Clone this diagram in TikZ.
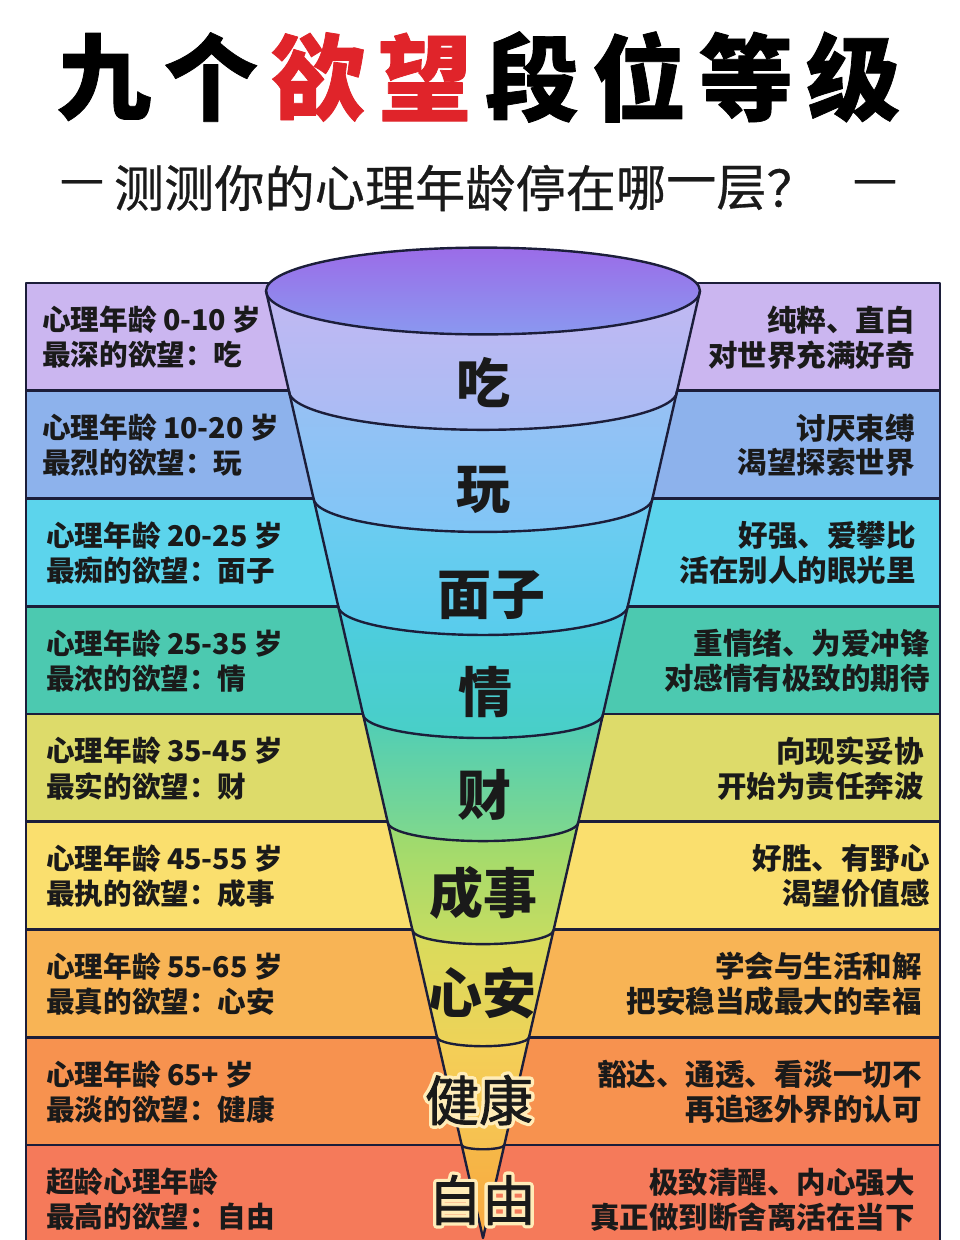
\documentclass[tikz,border=0pt]{standalone}
\usepackage{fontspec}
\setmainfont{Noto Sans CJK SC}
\newfontfamily\subfam[FakeBold=0.6]{Noto Sans CJK SC}
\newfontfamily\lowfam[FakeBold=1.5]{Noto Sans CJK SC}
\newfontfamily\halofam[FakeBold=14]{Noto Sans CJK SC}
\newfontfamily\heavyfam[BoldFeatures={FakeBold=0.8}]{Noto Sans CJK SC}
\definecolor{edge}{HTML}{1C1E3A}
\definecolor{ink}{HTML}{1A1A1A}
\definecolor{titlered}{HTML}{E0242A}
\definecolor{halo}{HTML}{FFECB8}
\definecolor{r1}{HTML}{CBB6F0}
\definecolor{r2}{HTML}{8DB2EC}
\definecolor{r3}{HTML}{5CD4EC}
\definecolor{r4}{HTML}{4CC9B0}
\definecolor{r5}{HTML}{DDDB6A}
\definecolor{r6}{HTML}{FADF6E}
\definecolor{r7}{HTML}{F8B455}
\definecolor{r8}{HTML}{F7924F}
\definecolor{r9}{HTML}{F57A5A}
\definecolor{topt}{HTML}{9B6CE8}
\definecolor{topb}{HTML}{8A98F0}
\definecolor{s1t}{HTML}{C2B8F2}
\definecolor{s1b}{HTML}{A8BCF4}
\definecolor{s2t}{HTML}{98C0F4}
\definecolor{s2b}{HTML}{80C6F6}
\definecolor{s3t}{HTML}{70CCF2}
\definecolor{s3b}{HTML}{58CCEC}
\definecolor{s4t}{HTML}{4ECCE2}
\definecolor{s4b}{HTML}{48CFC6}
\definecolor{s5t}{HTML}{4ECDB8}
\definecolor{s5b}{HTML}{80D88C}
\definecolor{s6t}{HTML}{98DA70}
\definecolor{s6b}{HTML}{C8DC60}
\definecolor{s7t}{HTML}{D8DC5C}
\definecolor{s7b}{HTML}{EED258}
\definecolor{s8t}{HTML}{F4D058}
\definecolor{s8b}{HTML}{F6C050}
\definecolor{s9t}{HTML}{F6B848}
\definecolor{s9b}{HTML}{F8A840}
\newcommand\haloed[1]{\rlap{\halofam\color{halo}#1}#1}
\begin{document}
\begin{tikzpicture}[x=1pt,y=-1pt,line join=round,
  rowbox/.style={draw=edge,line width=2.6pt},
  funline/.style={draw=edge,line width=2.4pt},
  lt/.style={anchor=west,inner sep=0pt,text=ink,font=\bfseries\fontsize{28.6}{34}\selectfont},
  rt/.style={anchor=east,inner sep=0pt,text=ink,font=\bfseries\fontsize{29.5}{34}\selectfont},
  titlech/.style={inner sep=0pt,font=\heavyfam\bfseries\fontsize{94}{100}\selectfont},
  subch/.style={inner sep=0pt,text=ink,font=\subfam\fontsize{50}{54}\selectfont},
  flab/.style={inner sep=0pt,text=ink,font=\bfseries\fontsize{54}{60}\selectfont},
  flabl/.style={inner sep=0pt,text=ink,font=\lowfam\fontsize{54}{60}\selectfont}]
\useasboundingbox (0,0) rectangle (960,1240);
\fill[white] (0,0) rectangle (960,1240);

% title
\foreach \ch/\col [count=\k] in {九/black,个/black,欲/titlered,望/titlered,段/black,位/black,等/black,级/black}
  \node[titlech,text=\col] (t\k) at ({104+107*(\k-1)},77) {\ch};
% subtitle
\node[subch] (sd1) at (82,188) {—};
\foreach \ch [count=\k] in {测,测,你,的,心,理,年,龄,停,在,哪,一,层,？}
  \node[subch] (s\k) at ({139+50.2*(\k-1)},188) {\ch};
\node[subch] (sd2) at (875,188) {—};

% rows
\foreach \i/\c in {1/r1,2/r2,3/r3,4/r4,5/r5,6/r6,7/r7,8/r8,9/r9}{
  \pgfmathsetmacro\t{283+107.75*(\i-1)}
  \pgfmathsetmacro\b{\i==9 ? 1260 : \t+107.75}
  \filldraw[rowbox,fill=\c] (26,\t) rectangle (940,\b);
}

% funnel segments
\def\cx{483}
\def\k{0.22914}
\foreach \ya/\yb/\ct/\cb in {291/391/s1t/s1b,391/498/s2t/s2b,498/606/s3t/s3b,606/714/s4t/s4b,714/822/s5t/s5b,822/930/s6t/s6b,930/1037/s7t/s7b,1037/1145/s8t/s8b}{
  \pgfmathsetmacro\ha{\k*(1238-\ya)}
  \pgfmathsetmacro\ra{0.2*\ha}
  \pgfmathsetmacro\hb{\k*(1238-\yb)}
  \pgfmathsetmacro\rb{0.2*\hb}
  \shade[top color=\ct,bottom color=\cb]
    (\cx-\ha,\ya) arc[start angle=180,end angle=0,x radius=\ha,y radius=\ra]
    -- (\cx+\hb,\yb) arc[start angle=0,end angle=180,x radius=\hb,y radius=\rb] -- cycle;
}
\pgfmathsetmacro\ha{\k*(1238-1145)}
\pgfmathsetmacro\ra{0.2*\ha}
\shade[top color=s9t,bottom color=s9b]
  (\cx-\ha,1145) arc[start angle=180,end angle=0,x radius=\ha,y radius=\ra] -- (\cx,1238) -- cycle;
% top ellipse
\shade[top color=topt,bottom color=topb] (\cx,291) ellipse[x radius=217,y radius=43.4];

% outlines
\coordinate (apex) at (\cx,1238);
\coordinate (tl) at (\cx-217,291);
\coordinate (tr) at (\cx+217,291);
\draw[funline] (tl) -- (apex) -- (tr);
\draw[funline] (\cx,291) ellipse[x radius=217,y radius=43.4];
\foreach \y in {391,498,606,714,822,930,1037,1145}{
  \pgfmathsetmacro\h{\k*(1238-\y)}
  \pgfmathsetmacro\r{0.2*\h}
  \draw[funline] (\cx-\h,\y) arc[start angle=180,end angle=0,x radius=\h,y radius=\r];
}

% funnel labels
\node[flab] (f1) at (483,383) {吃};
\node[flab] (f2) at (483,490) {玩};
\node[flab] (f3) at (491,595) {面子};
\node[flab] (f4) at (485,692) {情};
\node[flab] (f5) at (484,795) {财};
\node[flab] (f6) at (483,893) {成事};
\node[flab] (f7) at (482,993) {心安};
\node[flabl] (f8) at (479,1100) {\haloed{健康}};
\node[flabl] (f9) at (482,1200) {\haloed{自由}};

% row texts
\foreach \i/\la/\lb/\ra/\rb/\lx/\rx in {
  1/心理年龄 0-10 岁/最深的欲望：吃/纯粹、直白/对世界充满好奇/42/915,
  2/心理年龄 10-20 岁/最烈的欲望：玩/讨厌束缚/渴望探索世界/42/915,
  3/心理年龄 20-25 岁/最痴的欲望：面子/好强、爱攀比/活在别人的眼光里/46/916,
  4/心理年龄 25-35 岁/最浓的欲望：情/重情绪、为爱冲锋/对感情有极致的期待/46/930,
  5/心理年龄 35-45 岁/最实的欲望：财/向现实妥协/开始为责任奔波/46/924,
  6/心理年龄 45-55 岁/最执的欲望：成事/好胜、有野心/渴望价值感/46/930,
  7/心理年龄 55-65 岁/最真的欲望：心安/学会与生活和解/把安稳当成最大的幸福/46/922,
  8/心理年龄 65+ 岁/最淡的欲望：健康/豁达、通透、看淡一切不/再追逐外界的认可/46/922,
  9/超龄心理年龄/最高的欲望：自由/极致清醒、内心强大/真正做到断舍离活在当下/46/915}{
  \pgfmathsetmacro\t{283+107.75*(\i-1)}
  \node[lt] (la\i) at (\lx,\t+37) {\la};
  \node[lt] (lb\i) at (\lx,\t+72) {\lb};
  \node[rt] (ra\i) at (\rx,\t+37) {\ra};
  \node[rt] (rb\i) at (\rx,\t+72) {\rb};
}
\end{tikzpicture}
\end{document}
